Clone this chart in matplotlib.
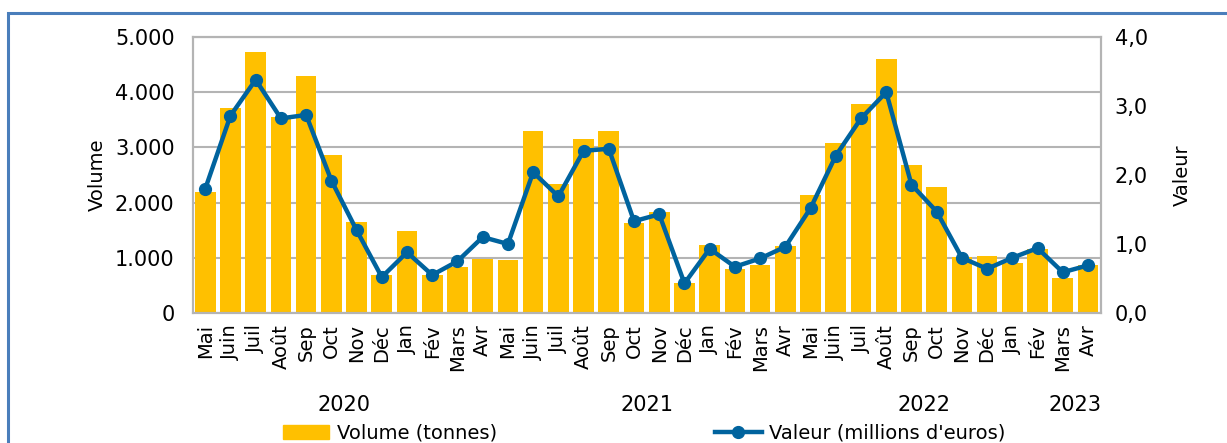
import matplotlib
matplotlib.use('Agg')
import matplotlib.pyplot as plt
from matplotlib.patches import Rectangle
from matplotlib.lines import Line2D
from matplotlib.ticker import FuncFormatter
import numpy as np

plt.rcParams['font.family'] = ['DejaVu Sans']

months = ['Mai', 'Juin', 'Juil', 'Août', 'Sep', 'Oct', 'Nov', 'Déc',
          'Jan', 'Fév', 'Mars', 'Avr', 'Mai', 'Juin', 'Juil', 'Août', 'Sep', 'Oct', 'Nov', 'Déc',
          'Jan', 'Fév', 'Mars', 'Avr', 'Mai', 'Juin', 'Juil', 'Août', 'Sep', 'Oct', 'Nov', 'Déc',
          'Jan', 'Fév', 'Mars', 'Avr']
volume = [2200, 3720, 4720, 3550, 4300, 2870, 1640, 690,
          1480, 690, 830, 980, 965, 3300, 2340, 3160, 3300, 1625, 1825, 540,
          1230, 790, 875, 1215, 2140, 3085, 3780, 4600, 2680, 2290, 1020, 1035,
          910, 1165, 640, 865]
valeur = [1.80, 2.86, 3.38, 2.82, 2.87, 1.92, 1.20, 0.52,
          0.88, 0.55, 0.75, 1.10, 1.00, 2.04, 1.69, 2.35, 2.38, 1.33, 1.43, 0.43,
          0.93, 0.67, 0.79, 0.96, 1.52, 2.28, 2.82, 3.20, 1.86, 1.47, 0.80, 0.64,
          0.80, 0.94, 0.59, 0.69]
years = ['2020', '2021', '2022', '2023']
year_pos = [5.5, 17.5, 28.5, 34.5]

gold = '#FFC000'
blue = '#00639E'
grid = '#B4B4B4'

fig = plt.figure(figsize=(12.27, 4.43), dpi=100)
ax = fig.add_axes([0.157, 0.2935, 0.740, 0.623])
x = np.arange(len(months))

ax.bar(x, volume, width=0.82, color=gold, zorder=2)
ax.set_xlim(-0.5, len(months) - 0.5)
ax.set_ylim(0, 5000)
ax.set_yticks(np.arange(0, 5001, 1000))
ax.yaxis.set_major_formatter(FuncFormatter(lambda v, p: f'{int(v):,}'.replace(',', '.')))
ax.grid(axis='y', color=grid, linewidth=1.5, zorder=0)
ax.set_axisbelow(True)
ax.set_xticks(x)
ax.set_xticklabels(months, rotation=90, fontsize=14)
ax.tick_params(axis='x', length=0, pad=8)
ax.tick_params(axis='y', length=0, labelsize=15, pad=13)
ax.set_ylabel('Volume', fontsize=14, labelpad=6)
for s in ax.spines.values():
    s.set_color(grid)
    s.set_linewidth(1.5)

ax2 = ax.twinx()
ax2.plot(x, valeur, color=blue, linewidth=3.2, marker='o', markersize=8.5, zorder=3)
ax2.set_ylim(0, 4)
ax2.set_yticks(np.arange(0, 4.01, 1))
ax2.yaxis.set_major_formatter(FuncFormatter(lambda v, p: f'{v:.1f}'.replace('.', ',')))
ax2.tick_params(axis='y', length=0, labelsize=15, pad=10)
ax2.set_ylabel('Valeur', fontsize=14, labelpad=18)
for s in ax2.spines.values():
    s.set_color(grid)
    s.set_linewidth(1.5)

for yr, p in zip(years, year_pos):
    ax.text(p, -0.335, yr, transform=ax.get_xaxis_transform(), ha='center', va='center', fontsize=15)

handles = [Rectangle((0, 0), 1, 1, color=gold),
           Line2D([0], [0], color=blue, linewidth=3.2, marker='o', markersize=8.5)]
fig.legend(handles, ['Volume (tonnes)', "Valeur (millions d'euros)"], loc='center',
           bbox_to_anchor=(0.525, 0.022), ncol=2, frameon=False, fontsize=14,
           columnspacing=11.2, handlelength=2.4, handletextpad=0.4)

fig.patches.append(Rectangle((8 / 1227, -0.1), 1.1, (443 - 13) / 443 + 0.1,
                             transform=fig.transFigure, fill=False,
                             edgecolor='#4A7EBB', linewidth=2.2))

plt.savefig('out.png', dpi=100)
